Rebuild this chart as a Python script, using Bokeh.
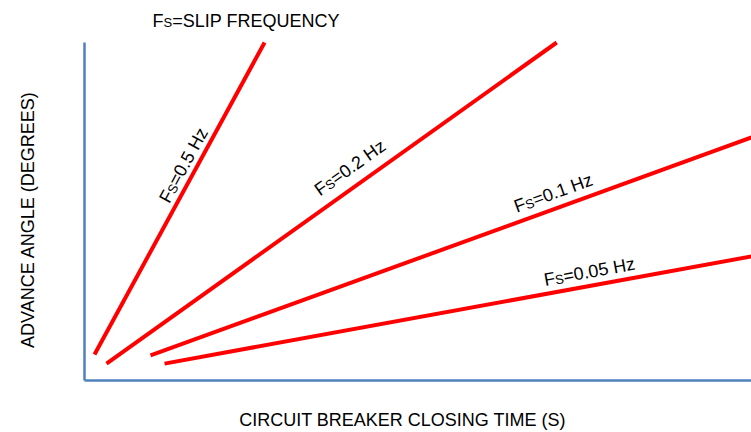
import math
from bokeh.plotting import figure
from bokeh.models import Range1d, Label, FixedTicker
from bokeh.embed import file_html
from bokeh.resources import INLINE

# ---- data (arbitrary units: closing time vs. advance angle) ----
slip_freqs = ["0.5 Hz", "0.2 Hz", "0.1 Hz", "0.05 Hz"]
time_05 = [1.5, 27.0]
angle_05 = [7.7, 100.0]
time_02 = [3.3, 70.8]
angle_02 = [5.0, 100.0]
time_01 = [9.9, 100.0]
angle_01 = [7.4, 71.9]
time_005 = [12.0, 100.0]
angle_005 = [5.0, 36.7]

# label anchors (start of "F" baseline) in data units
label_x = [11.9, 34.8, 64.5, 68.9]
label_y = [53.0, 55.9, 51.3, 29.7]

x_max = 100.0
y_max = 100.0

# ---- layout ----
W, H = 751, 432
AX_LEFT, AX_RIGHT, AX_TOP, AX_BOTTOM = 84, 751, 42, 380   # pixel box of the axes
px_x = (AX_RIGHT - AX_LEFT) / x_max
px_y = (AX_BOTTOM - AX_TOP) / y_max
x_lo = -AX_LEFT / px_x
x_hi = x_max + (W - AX_RIGHT) / px_x
y_hi = y_max + AX_TOP / px_y
y_lo = -(H - AX_BOTTOM) / px_y

p = figure(width=W, height=H, output_backend="svg", toolbar_location=None,
           x_range=Range1d(x_lo, x_hi), y_range=Range1d(y_lo, y_hi), min_border=0)
p.outline_line_color = None
p.grid.visible = False
p.background_fill_color = "white"
p.border_fill_color = "white"

AXIS_COLOR = "#4F81BD"
for ax, bnd in ((p.xaxis[0], (0, x_max)), (p.yaxis[0], (0, y_max))):
    ax.ticker = FixedTicker(ticks=[])
    ax.fixed_location = 0
    ax.bounds = bnd
    ax.axis_line_color = AXIS_COLOR
    ax.axis_line_width = 2.5
    ax.major_tick_line_color = None
    ax.minor_tick_line_color = None
    ax.major_label_text_font_size = "0px"
    ax.major_tick_out = 0
    ax.major_tick_in = 0
    ax.major_label_standoff = 0

RED = "#FF0000"
series = [(time_05, angle_05), (time_02, angle_02), (time_01, angle_01), (time_005, angle_005)]
for xs, ys in series:
    p.line(xs, ys, line_color=RED, line_width=4)

FONT = "Liberation Sans"
FS = 18
SUB_FS = 13
F_W = 0.611 * FS
S_W = 0.667 * SUB_FS
DROP = 2.0


def sub_text(x, y, rest, angle_rad, drop=DROP):
    ca, sa = math.cos(angle_rad), math.sin(angle_rad)
    common = dict(x=x, y=y, angle=angle_rad, text_font=FONT, text_color="#000000",
                  text_align="left", text_baseline="alphabetic")
    p.add_layout(Label(text="F", text_font_size=f"{FS}px", **common))
    p.add_layout(Label(text="S", text_font_size=f"{SUB_FS}px",
                       x_offset=F_W * ca + drop * sa, y_offset=F_W * sa - drop * ca, **common))
    adv = F_W + S_W
    p.add_layout(Label(text=rest, text_font_size=f"{FS}px",
                       x_offset=adv * ca, y_offset=adv * sa, **common))


for (xs, ys), name, lx, ly in zip(series, slip_freqs, label_x, label_y):
    ang = math.atan2((ys[1] - ys[0]) * px_y, (xs[1] - xs[0]) * px_x)
    sub_text(lx, ly, "=" + name, ang)

# title
sub_text(10.2, 106.4, "=SLIP FREQUENCY", 0.0, drop=1.5)

# axis titles
p.add_layout(Label(x=47.7, y=-11.6, text="CIRCUIT BREAKER CLOSING TIME (S)",
                   text_font=FONT, text_font_size=f"{FS}px", text_color="#000000",
                   text_align="center", text_baseline="alphabetic"))
p.add_layout(Label(x=-8.4, y=47.6, text="ADVANCE ANGLE (DEGREES)", angle=math.pi / 2,
                   text_font=FONT, text_font_size=f"{FS}px", text_color="#000000",
                   text_align="center", text_baseline="alphabetic"))

open("out.html", "w").write(file_html(p, INLINE))
